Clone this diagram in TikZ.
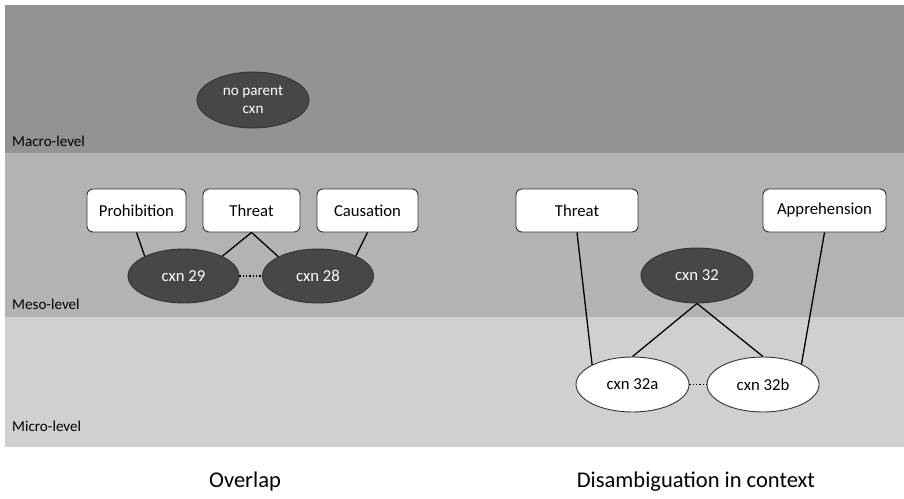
\documentclass[tikz,border=0pt]{standalone}
\usepackage{fontspec}
\setmainfont{Carlito}
\usetikzlibrary{shapes.geometric}
\definecolor{macrocol}{HTML}{939393}
\definecolor{mesocol}{HTML}{B3B3B3}
\definecolor{microcol}{HTML}{D0D0D0}
\definecolor{darkell}{HTML}{474747}
\definecolor{bordercol}{HTML}{333333}
\begin{document}
\begin{tikzpicture}[x=1pt,y=-1pt,
  boxnode/.style={draw=bordercol,line width=0.9pt,fill=white,rounded corners=6pt,
    minimum height=43pt,inner sep=0pt,font=\fontsize{16.7}{19}\selectfont},
  darkellipse/.style={ellipse,draw=bordercol,line width=0.9pt,fill=darkell,text=white,
    minimum width=111pt,minimum height=54pt,inner sep=0pt,font=\fontsize{16.7}{19}\selectfont},
  whiteellipse/.style={ellipse,draw=bordercol,line width=0.9pt,fill=white,
    minimum width=113pt,minimum height=55pt,inner sep=0pt,font=\fontsize{16.7}{19}\selectfont},
  levellabel/.style={anchor=base west,inner sep=0pt,font=\fontsize{15.1}{17}\selectfont},
  title/.style={anchor=base,inner sep=0pt,font=\fontsize{22.5}{26}\selectfont},
  link/.style={line width=1.3pt,black},
  dotlink/.style={line width=1.3pt,black,dotted}]
\useasboundingbox (0,0) rectangle (904,498);
\fill[white] (0,0) rectangle (904,498);
% bands
\fill[macrocol] (5,5) rectangle (904,153);
\fill[mesocol] (5,153) rectangle (904,317);
\fill[microcol] (5,317) rectangle (904,447);
% level labels
\node[levellabel] (lmacro) at (12,146) {Macro-level};
\node[levellabel] (lmeso) at (12,309) {Meso-level};
\node[levellabel] (lmicro) at (12,431) {Micro-level};
% macro
\node[darkellipse,minimum width=112pt,minimum height=56pt,font=\fontsize{15.2}{18}\selectfont,align=center] (noparent) at (253,100) {no parent\\cxn};
% left: overlap
\node[boxnode,minimum width=99pt] (prohib) at (136.5,210.5) {Prohibition};
\node[boxnode,minimum width=97pt] (threatL) at (251.5,210.5) {Threat};
\node[boxnode,minimum width=101pt] (caus) at (367.5,210.5) {Causation};
\node[darkellipse] (c29) at (183.5,276) {cxn 29};
\node[darkellipse] (c28) at (318,276) {cxn 28};
\draw[link] (prohib.south) -- (c29.153);
\draw[link] (threatL.south) -- (c29.27);
\draw[link] (threatL.south) -- (c28.154);
\draw[link] (caus.south) -- (c28.28);
\draw[dotlink] (c29.east) -- (c28.west);
% right: disambiguation
\node[boxnode,minimum width=122pt] (threatR) at (577,210.5) {Threat};
\node[boxnode,minimum width=123pt] (appr) at (824.5,210.5) {Apprehension};
\node[darkellipse,minimum width=112pt,minimum height=55pt] (c32) at (697,275.5) {cxn 32};
\node[whiteellipse] (c32a) at (632.5,384.5) {cxn 32a};
\node[whiteellipse,minimum width=112pt] (c32b) at (763,384.5) {cxn 32b};
\draw[link] (threatR.south) -- (c32a.154);
\draw[link] (appr.south) -- (c32b.28);
\draw[link] (c32.south) -- (c32a.north);
\draw[link] (c32.south) -- (c32b.north);
\draw[dotlink] (c32a.east) -- (c32b.west);
% titles
\node[title] (tover) at (245,487) {Overlap};
\node[title] (tdis) at (696,487) {Disambiguation in context};
\end{tikzpicture}
\end{document}
